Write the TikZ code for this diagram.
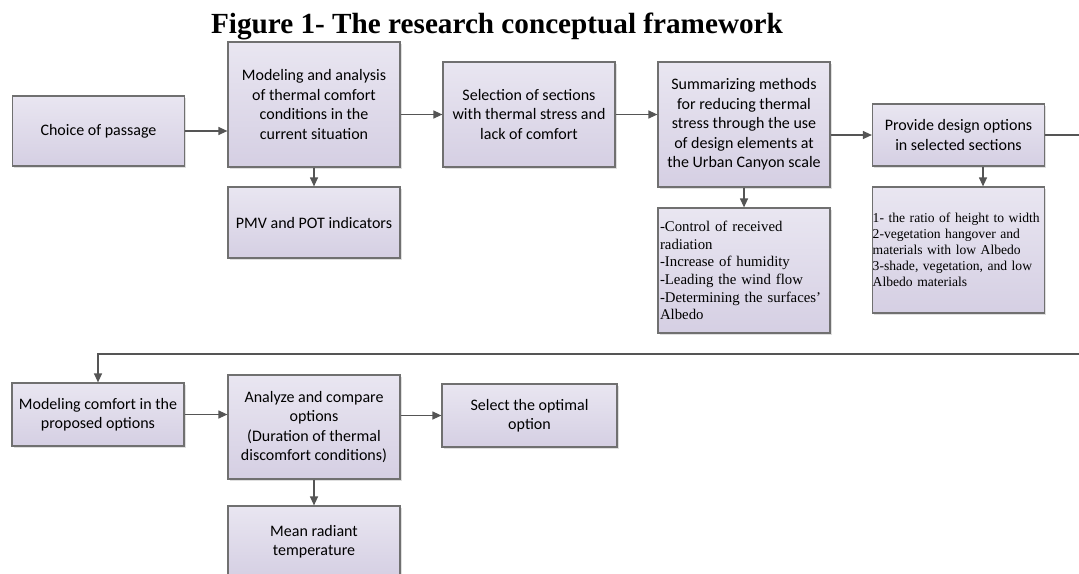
\documentclass[tikz,border=0pt]{standalone}
\usepackage{fontspec}
\setmainfont{Liberation Serif}
\newfontfamily\boxfont{Carlito}
\usetikzlibrary{arrows.meta, positioning, shadows}

\definecolor{boxtop}{RGB}{233,230,241}
\definecolor{boxbot}{RGB}{213,207,227}
\definecolor{boxline}{RGB}{112,112,112}
\definecolor{arrline}{RGB}{85,85,85}

\tikzset{
    stagebox/.style={draw=boxline, line width=0.6pt, rectangle, top color=boxtop, bottom color=boxbot,
        drop shadow={shadow xshift=0.8pt, shadow yshift=-0.8pt, fill=black!25},
        minimum width=86pt, align=center, inner sep=2pt,
        font=\boxfont\fontsize{8}{9.7}\selectfont},
    listbox/.style={stagebox, align=left, text width=84pt, inner sep=1pt,
        font=\fontsize{7.4}{8.8}\selectfont},
    arr/.style={-{Triangle[length=4.5pt, width=4pt]}, draw=arrline, line width=0.6pt}
}

\begin{document}
\begin{tikzpicture}[x=0.5pt, y=-0.5pt]
    \useasboundingbox (0,0) rectangle (1079,573);

    % title
    \node[anchor=base, font=\bfseries\fontsize{14.6}{16}\selectfont] (title) at (497,33) {Figure 1- The research conceptual framework};

    % first row
    \node[stagebox, minimum height=35pt] (choice) at (98.5,131) {Choice of passage};
    \node[stagebox, minimum height=62.5pt] (model) at (314,104.5) {Modeling and analysis\\of thermal comfort\\conditions in the\\current situation};
    \node[stagebox, minimum height=35.5pt] (pmv) at (314,222.5) {PMV and POT indicators};
    \node[stagebox, minimum height=52.5pt] (sel) at (529,114.5) {Selection of sections\\with thermal stress and\\lack of comfort};
    \node[stagebox, minimum height=62.5pt] (summ) at (744,124.5) {Summarizing methods\\for reducing thermal\\stress through the use\\of design elements at\\the Urban Canyon scale};
    \node[listbox, minimum height=62.5pt] (ctrl) at (744,270.5) {-Control of received\\radiation\\-Increase of humidity\\-Leading the wind flow\\-Determining the surfaces'\\Albedo};
    \node[stagebox, minimum height=31pt] (prov) at (958.5,135) {Provide design options\\in selected sections};
    \node[listbox, minimum height=63pt, text width=85.8pt, inner xsep=0.2pt, font=\fontsize{6.8}{8}\selectfont] (opts) at (958.5,250) {1- the ratio of height to width\\2-vegetation hangover and\\materials with low Albedo\\3-shade, vegetation, and low\\Albedo materials};

    % second row
    \node[stagebox, minimum height=31.5pt] (mcomf) at (98,414.5) {Modeling comfort in the\\proposed options};
    \node[stagebox, minimum height=52pt] (anal) at (314,427) {Analyze and compare\\options\\(Duration of thermal\\discomfort conditions)};
    \node[stagebox, minimum width=87.5pt, minimum height=31.5pt] (best) at (529.5,415.5) {Select the optimal\\option};
    \node[stagebox, minimum height=36pt] (mrt) at (314,542) {Mean radiant\\temperature};

    % connectors
    \coordinate (loopR) at (1095,354);
    \draw[arr] (choice.east) -- (choice.east -| model.west);
    \draw[arr] (model.east |- sel.west) -- (sel.west);
    \draw[arr] (sel.east) -- (sel.east -| summ.west);
    \draw[arr] (summ.east |- prov.west) -- (prov.west);
    \draw[arr] (model.south) -- (pmv.north);
    \draw[arr] (summ.south) -- (ctrl.north);
    \draw[arr] ([xshift=12.25pt]prov.south) -- ([xshift=12.25pt]opts.north);
    \draw[arr] (prov.east) -- (prov.east -| loopR) -- (loopR) -| (mcomf.north);
    \draw[arr] (mcomf.east) -- (mcomf.east -| anal.west);
    \draw[arr] (anal.east |- best.west) -- (best.west);
    \draw[arr] (anal.south) -- (mrt.north);
\end{tikzpicture}
\end{document}
